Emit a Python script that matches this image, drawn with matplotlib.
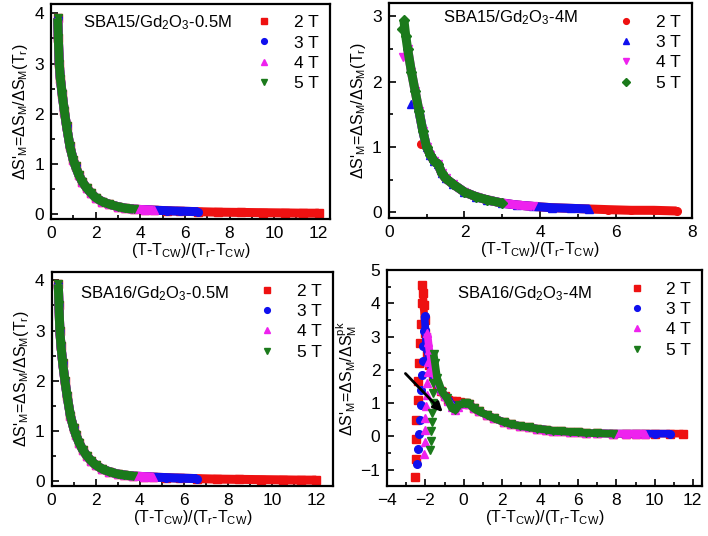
import numpy as np
import matplotlib.pyplot as plt
from matplotlib.ticker import MultipleLocator

plt.rcParams['font.family'] = ['Liberation Sans', 'DejaVu Sans']
plt.rcParams['mathtext.default'] = 'regular'

fields = ['2 T', '3 T', '4 T', '5 T']
colors = ['#ee1111', '#1010ee', '#ee22ee', '#1b7a1b']

# SBA15/Gd2O3-0.5M (top left)
tl_x = [0.3, 0.33, 0.37, 0.42, 0.5, 0.6, 0.7, 0.85, 1.0, 1.1, 1.25, 1.4, 1.6, 1.8, 2.0,
        2.3, 2.6, 3.0, 3.3, 3.7, 4.2, 4.6, 5.2, 5.8, 6.6, 7.5, 8.5, 9.5, 10.5, 11.3, 12.0]
tl_y = [3.9, 3.5, 3.0, 2.7, 2.4, 2.05, 1.75, 1.35, 1.08, 0.95, 0.78, 0.65, 0.52, 0.42, 0.33,
        0.25, 0.2, 0.15, 0.12, 0.1, 0.09, 0.08, 0.07, 0.06, 0.05, 0.04, 0.035, 0.03, 0.025, 0.02, 0.02]
tl_xend = [12.0, 6.6, 4.6, 3.7]
tl_markers = ['s', 'o', '^', 'v']

# SBA15/Gd2O3-4M (top right)
tr_x = [0.4, 0.45, 0.5, 0.6, 0.7, 0.8, 0.9, 1.0, 1.1, 1.2, 1.3, 1.4, 1.5, 1.7, 2.0, 2.3,
        2.6, 3.0, 3.4, 3.8, 4.3, 4.8, 5.3, 5.8, 6.4, 7.0, 7.6]
tr_y = [2.95, 2.7, 2.5, 2.15, 1.85, 1.55, 1.25, 1.0, 0.88, 0.78, 0.74, 0.6, 0.52, 0.43, 0.31, 0.24,
        0.19, 0.14, 0.11, 0.09, 0.07, 0.06, 0.05, 0.04, 0.03, 0.03, 0.02]
tr_first_x = [0.85, 0.6, 0.38, 0.35]
tr_first_y = [1.05, 1.65, 2.38, 2.8]
tr_xstart = [1.0, 0.8, 0.5, 0.4]
tr_xend = [7.6, 5.3, 3.8, 3.0]
tr_markers = ['o', '^', 'v', 'D']

# SBA16/Gd2O3-0.5M (bottom left)
bl_x = [0.3, 0.33, 0.37, 0.42, 0.5, 0.6, 0.7, 0.85, 1.0, 1.1, 1.25, 1.4, 1.6, 1.8, 2.0,
        2.3, 2.6, 3.0, 3.3, 3.7, 4.2, 4.6, 5.2, 5.8, 6.6, 7.5, 8.5, 9.5, 10.5, 11.3, 12.0]
bl_y = [3.92, 3.5, 3.0, 2.7, 2.35, 2.0, 1.7, 1.3, 1.05, 0.92, 0.76, 0.63, 0.5, 0.4, 0.32,
        0.24, 0.19, 0.14, 0.12, 0.1, 0.09, 0.08, 0.07, 0.06, 0.05, 0.04, 0.035, 0.03, 0.025, 0.02, 0.02]
bl_xend = [12.0, 6.6, 4.6, 3.7]
bl_markers = ['s', 'o', '^', 'v']

# SBA16/Gd2O3-4M (bottom right): scattered low-T branch, head of curve, shared tail
br_branch_x = [
    [-2.56, -2.52, -2.47, -2.47, -2.40, -2.38, -2.35, -2.30, -2.26, -2.17],
    [-2.43, -2.38, -2.35, -2.30, -2.26, -2.22, -2.17, -2.14, -2.12, -2.09],
    [-2.09, -2.05, -2.03, -2.0, -1.97, -1.94, -1.91, -1.88, -1.86],
    [-1.74, -1.70, -1.69, -1.65, -1.65, -1.62, -1.6, -1.6],
]
br_branch_y = [
    [-1.23, -0.68, -0.09, 0.5, 1.08, 1.65, 2.22, 2.81, 3.38, 4.02],
    [-0.83, -0.37, 0.06, 0.48, 0.94, 1.4, 1.85, 2.27, 2.73, 3.16],
    [-0.52, -0.17, 0.2, 0.56, 0.9, 1.25, 1.6, 1.95, 2.25],
    [-0.42, -0.15, 0.15, 0.43, 0.71, 1.0, 1.3, 1.6],
]
br_head_x = [
    [-2.17, -2.12, -2.1, -2.05, -2.0, -1.95, -1.9, -1.8, -1.6, -1.4, -1.2, -1.0, -0.8, -0.6, -0.4, -0.2, 0.0],
    [-2.05, -2.0, -1.95, -1.9, -1.8, -1.6, -1.4, -1.2, -1.0, -0.8, -0.6, -0.45, -0.3, -0.1, 0.0],
    [-1.9, -1.85, -1.8, -1.7, -1.6, -1.4, -1.2, -1.0, -0.8, -0.6, -0.45, -0.3, -0.1, 0.0],
    [-1.57, -1.5, -1.39, -1.13, -0.87, -0.61, -0.43, -0.26, 0.09],
]
br_head_y = [
    [4.56, 4.3, 3.95, 3.5, 3.1, 2.8, 2.5, 2.15, 1.8, 1.55, 1.35, 1.2, 1.08, 1.05, 1.05, 1.03, 1.0],
    [3.62, 3.2, 2.9, 2.6, 2.25, 1.85, 1.6, 1.38, 1.22, 1.08, 0.95, 0.85, 0.9, 0.98, 1.0],
    [3.1, 2.85, 2.6, 2.3, 2.0, 1.65, 1.4, 1.2, 1.05, 0.88, 0.8, 0.88, 0.97, 1.0],
    [2.47, 2.2, 1.75, 1.34, 1.14, 0.84, 0.79, 0.94, 0.99],
]
br_x = [0.1, 0.3, 0.52, 0.8, 1.22, 1.6, 2.09, 2.5, 2.96, 3.4, 3.83, 4.3, 4.7, 5.1, 5.57,
        6.0, 6.43, 7.0, 7.83, 8.5, 9.0, 9.5, 10.0, 10.8, 11.5]
br_y = [1.0, 0.97, 0.84, 0.75, 0.64, 0.54, 0.43, 0.36, 0.31, 0.27, 0.23, 0.2, 0.16, 0.15, 0.13,
        0.12, 0.1, 0.09, 0.08, 0.08, 0.08, 0.08, 0.08, 0.08, 0.08]
br_xend = [11.5, 10.8, 9.5, 7.83]
br_markers = ['s', 'o', '^', 'v']

xlab = '(T-T$_{CW}$)/(T$_r$-T$_{CW}$)'
ylab = "ΔS'$_M$=ΔS$_M$/ΔS$_M$(T$_r$)"
ylab_pk = "ΔS'$_M$=ΔS$_M$/ΔS$_M^{pk}$"

LW = 6.5
MS = 5.5

fig = plt.figure(figsize=(7.08, 5.36), dpi=100)
ax_tl = fig.add_axes([0.072, 0.591, 0.394, 0.402])
ax_tr = fig.add_axes([0.549, 0.593, 0.428, 0.401])
ax_bl = fig.add_axes([0.073, 0.093, 0.397, 0.399])
ax_br = fig.add_axes([0.547, 0.093, 0.445, 0.403])


def style(ax, xlim, ylim, xmaj, ymaj):
    ax.set_xlim(*xlim)
    ax.set_ylim(*ylim)
    ax.xaxis.set_major_locator(MultipleLocator(xmaj))
    ax.xaxis.set_minor_locator(MultipleLocator(xmaj / 2))
    ax.yaxis.set_major_locator(MultipleLocator(ymaj))
    ax.yaxis.set_minor_locator(MultipleLocator(ymaj / 2))
    ax.tick_params(which='both', direction='in', top=False, right=False, width=1.2)
    ax.tick_params(which='major', length=5, labelsize=12.5, pad=5)
    ax.tick_params(which='minor', length=3)
    for s in ax.spines.values():
        s.set_linewidth(1.6)
    ax.set_xlabel(xlab, fontsize=11.5, labelpad=0)
    ax.legend(loc='upper right', frameon=False, fontsize=12.5, handlelength=0.8,
              handletextpad=1.3, labelspacing=0.3, borderaxespad=0.25, markerscale=0.75)


def simple_panel(ax, xs, ys, xend, markers):
    xs = np.array(xs)
    ys = np.array(ys)
    for i in range(4):
        m = xs <= xend[i]
        ax.plot(xs[m], ys[m], color=colors[i], lw=LW, solid_capstyle='butt')
        ax.plot(xs[m], ys[m], ls='none', marker=markers[i], ms=MS, color=colors[i], label=fields[i])


simple_panel(ax_tl, tl_x, tl_y, tl_xend, tl_markers)
style(ax_tl, (0, 12.5), (-0.1, 4.19), 2, 1)
ax_tl.set_ylabel(ylab, fontsize=11.5, labelpad=3)
ax_tl.text(0.115, 0.91, 'SBA15/Gd$_2$O$_3$-0.5M', transform=ax_tl.transAxes, fontsize=12, va='center')

x = np.array(tr_x)
y = np.array(tr_y)
for i in range(4):
    m = (x >= tr_xstart[i]) & (x <= tr_xend[i])
    xs = np.concatenate([[tr_first_x[i]], x[m]])
    ys = np.concatenate([[tr_first_y[i]], y[m]])
    ax_tr.plot(xs[1:], ys[1:], color=colors[i], lw=LW, solid_capstyle='butt')
    ax_tr.plot(xs, ys, ls='none', marker=tr_markers[i], ms=MS, color=colors[i], label=fields[i])
style(ax_tr, (0, 8), (-0.09, 3.2), 2, 1)
ax_tr.set_ylabel(ylab, fontsize=11.5, labelpad=3)
ax_tr.text(0.18, 0.935, 'SBA15/Gd$_2$O$_3$-4M', transform=ax_tr.transAxes, fontsize=12, va='center')

simple_panel(ax_bl, bl_x, bl_y, bl_xend, bl_markers)
style(ax_bl, (0, 12.75), (-0.1, 4.16), 2, 1)
ax_bl.set_ylabel(ylab, fontsize=11.5, labelpad=3)
ax_bl.text(0.1, 0.9, 'SBA16/Gd$_2$O$_3$-0.5M', transform=ax_bl.transAxes, fontsize=12, va='center')

x = np.array(br_x)
y = np.array(br_y)
for i in range(4):
    m = x <= br_xend[i]
    cx = np.concatenate([br_head_x[i], x[m]])
    cy = np.concatenate([br_head_y[i], y[m]])
    ax_br.plot(cx, cy, color=colors[i], lw=LW - 1, solid_capstyle='butt')
    ax_br.plot(cx, cy, ls='none', marker=br_markers[i], ms=MS, color=colors[i])
    ax_br.plot(br_branch_x[i], br_branch_y[i], ls='none', marker=br_markers[i], ms=MS,
               color=colors[i], label=fields[i])
ax_br.annotate('', xy=(-1.0, 0.67), xytext=(-3.15, 1.95),
               arrowprops=dict(arrowstyle='-|>', color='black', lw=2, mutation_scale=14))
style(ax_br, (-4, 12.5), (-1.5, 5), 2, 1)
ax_br.set_ylabel(ylab_pk, fontsize=11.5, labelpad=1)
ax_br.text(0.22, 0.89, 'SBA16/Gd$_2$O$_3$-4M', transform=ax_br.transAxes, fontsize=12, va='center')

fig.savefig('out.png', dpi=100)
